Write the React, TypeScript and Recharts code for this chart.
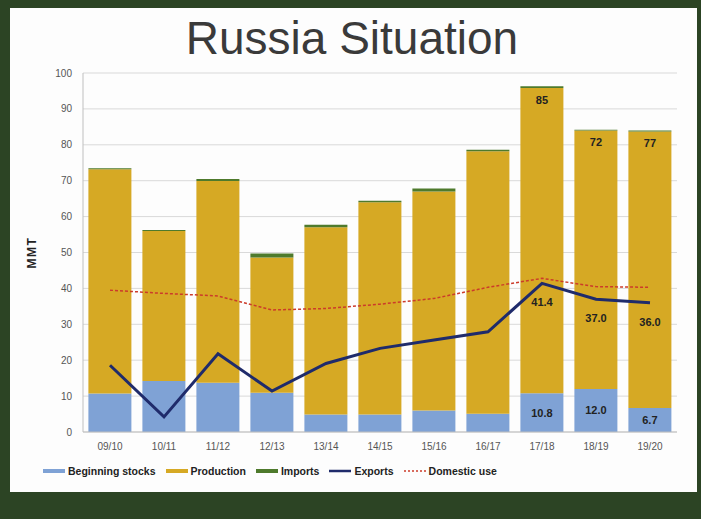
import {
  ComposedChart,
  Bar,
  Line,
  XAxis,
  YAxis,
  CartesianGrid,
  LabelList,
} from "recharts";

const seasons = ["09/10", "10/11", "11/12", "12/13", "13/14", "14/15", "15/16", "16/17", "17/18", "18/19", "19/20"];
const beginningStocks = [10.7, 14.2, 13.7, 10.9, 4.9, 4.9, 6.0, 5.1, 10.8, 12.0, 6.7];
const production = [62.5, 41.8, 56.2, 37.7, 52.1, 59.1, 61.0, 73.1, 85, 72, 77];
const imports = [0.3, 0.3, 0.6, 1.1, 0.7, 0.4, 0.8, 0.4, 0.5, 0.2, 0.3];
const exportsMMT = [18.6, 4.2, 21.8, 11.4, 19.1, 23.3, 25.6, 27.9, 41.4, 37.0, 36.0];
const domesticUse = [39.5, 38.6, 37.9, 34.0, 34.4, 35.6, 37.2, 40.3, 42.8, 40.5, 40.3];
// only the latest seasons carry value labels
const labelledSeasons = ["17/18", "18/19", "19/20"];
const yTicks = [0, 10, 20, 30, 40, 50, 60, 70, 80, 90, 100];

const FONT = "'Liberation Sans', Arial, sans-serif";

const COLORS = {
  stocks: "#7fa2d5",
  production: "#d6a924",
  imports: "#4e7a2c",
  exports: "#1f2b6b",
  domestic: "#cc3b2a",
};

const data = seasons.map((season, i) => {
  const show = labelledSeasons.includes(season);
  return {
    season,
    stocks: beginningStocks[i],
    production: production[i],
    imports: imports[i],
    exports: exportsMMT[i],
    domestic: domesticUse[i],
    stocksLabel: show ? beginningStocks[i] : null,
    productionLabel: show ? production[i] : null,
    exportsLabel: show ? exportsMMT[i] : null,
  };
});

const legendItems = [
  { label: "Beginning stocks", color: COLORS.stocks, dashed: false, width: 4 },
  { label: "Production", color: COLORS.production, dashed: false, width: 4 },
  { label: "Imports", color: COLORS.imports, dashed: false, width: 4 },
  { label: "Exports", color: COLORS.exports, dashed: false, width: 2.5 },
  { label: "Domestic use", color: COLORS.domestic, dashed: true, width: 1.5 },
];

const labelStyle = { fontSize: 11, fontWeight: 700, fill: "#222", fontFamily: FONT };

export default function App() {
  return (
    <div
      style={{
        position: "absolute",
        left: 0,
        top: 0,
        width: 701,
        height: 519,
        background: "#2c4424",
        fontFamily: FONT,
      }}
    >
      {/* white slide panel */}
      <div
        style={{
          position: "absolute",
          left: 10,
          top: 8,
          width: 687,
          height: 484,
          background: "#fdfdfd",
        }}
      />

      <div
        style={{
          position: "absolute",
          left: 0,
          top: 12,
          width: 704,
          textAlign: "center",
          fontSize: 46,
          color: "#3a3a3a",
          lineHeight: "52px",
        }}
      >
        Russia Situation
      </div>

      <div style={{ position: "absolute", left: 0, top: 0 }}>
        <ComposedChart
          width={701}
          height={519}
          data={data}
          margin={{ top: 73, right: 24, bottom: 57, left: 0 }}
          barCategoryGap="10%"
        >
          <CartesianGrid vertical={false} stroke="#d9d9d9" />
          <XAxis
            dataKey="season"
            tickLine={false}
            axisLine={{ stroke: "#bfbfbf" }}
            tick={{ fill: "#555", fontSize: 10, fontFamily: FONT }}
            tickMargin={5}
            interval={0}
          />
          <YAxis
            width={83}
            domain={[0, 100]}
            ticks={yTicks}
            tickLine={false}
            axisLine={{ stroke: "#bfbfbf" }}
            tick={{ fill: "#555", fontSize: 10, fontFamily: FONT }}
            tickMargin={5}
            label={{
              value: "MMT",
              angle: -90,
              position: "center",
              dx: -10,
              style: { fontSize: 12, fontWeight: 700, fill: "#222", fontFamily: FONT, letterSpacing: 1.5 },
            }}
          />

          <Bar dataKey="stocks" stackId="s" fill={COLORS.stocks} isAnimationActive={false}>
            <LabelList
              dataKey="stocksLabel"
              position="center"
              formatter={(v: any) => (v == null ? "" : Number(v).toFixed(1))}
              style={labelStyle}
            />
          </Bar>
          <Bar dataKey="production" stackId="s" fill={COLORS.production} isAnimationActive={false}>
            <LabelList dataKey="productionLabel" position="insideTop" offset={8} style={labelStyle} />
          </Bar>
          <Bar dataKey="imports" stackId="s" fill={COLORS.imports} isAnimationActive={false} />

          <Line
            dataKey="domestic"
            stroke={COLORS.domestic}
            strokeWidth={1.5}
            strokeDasharray="3 2"
            dot={false}
            isAnimationActive={false}
          />
          <Line
            dataKey="exports"
            stroke={COLORS.exports}
            strokeWidth={3}
            dot={false}
            isAnimationActive={false}
          >
            <LabelList
              dataKey="exportsLabel"
              position="bottom"
              offset={15}
              formatter={(v: any) => (v == null ? "" : Number(v).toFixed(1))}
              style={labelStyle}
            />
          </Line>
        </ComposedChart>
      </div>

      {/* legend */}
      <div
        style={{
          position: "absolute",
          left: 43,
          top: 465,
          display: "flex",
          alignItems: "center",
          gap: 10,
          fontSize: 10.5,
          fontWeight: 700,
          color: "#222",
        }}
      >
        {legendItems.map((item) => (
          <div key={item.label} style={{ display: "flex", alignItems: "center", gap: 3 }}>
            <svg width={22} height={8}>
              <line
                x1={0}
                y1={4}
                x2={22}
                y2={4}
                stroke={item.color}
                strokeWidth={item.width}
                strokeDasharray={item.dashed ? "2 2" : undefined}
              />
            </svg>
            <span>{item.label}</span>
          </div>
        ))}
      </div>
    </div>
  );
}
